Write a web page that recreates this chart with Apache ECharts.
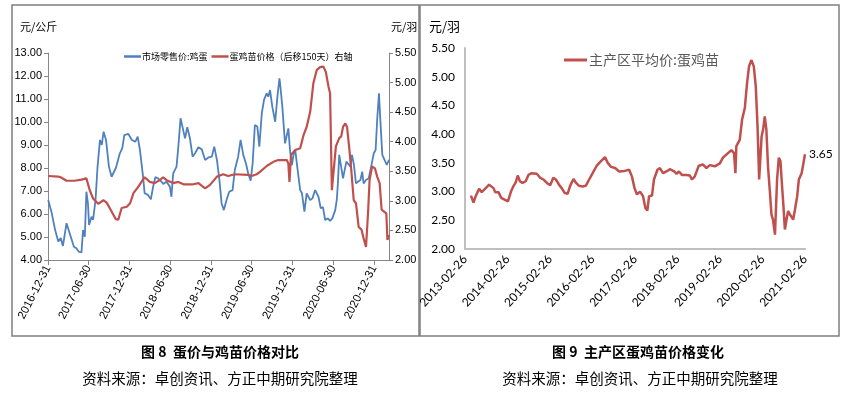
<!DOCTYPE html>
<html><head><meta charset="utf-8">
<script src="https://cdn.jsdelivr.net/npm/echarts@6/dist/echarts.min.js"></script>
<style>html,body{margin:0;padding:0;background:#fff}#c{width:847px;height:393px}</style>
</head><body><div id="c"></div>
<script>
// ---- Figure 8: egg retail price vs. chick price (shifted 150 days) ----
const eggDates = ['2017-01-01','2017-01-17','2017-02-01','2017-02-15','2017-02-26','2017-03-08','2017-03-24','2017-03-31','2017-04-12','2017-04-26','2017-05-07','2017-05-18','2017-05-30','2017-06-06','2017-06-14','2017-06-21','2017-06-28','2017-07-03','2017-07-14','2017-07-21','2017-08-01','2017-08-10','2017-08-21','2017-08-29','2017-09-06','2017-09-17','2017-09-30','2017-10-12','2017-10-20','2017-10-31','2017-11-18','2017-11-29','2017-12-08','2017-12-26','2018-01-11','2018-01-26','2018-02-06','2018-02-16','2018-03-02','2018-03-09','2018-03-24','2018-04-06','2018-04-16','2018-04-26','2018-05-08','2018-05-24','2018-05-31','2018-06-15','2018-06-30','2018-07-07','2018-07-15','2018-07-30','2018-08-07','2018-08-17','2018-08-25','2018-09-06','2018-09-16','2018-09-28','2018-10-10','2018-10-21','2018-11-05','2018-11-20','2018-12-05','2018-12-20','2019-01-04','2019-01-15','2019-01-27','2019-02-07','2019-02-17','2019-02-27','2019-03-11','2019-03-23','2019-04-07','2019-04-17','2019-05-02','2019-05-13','2019-05-25','2019-06-06','2019-06-16','2019-06-27','2019-07-06','2019-07-16','2019-07-27','2019-08-05','2019-08-16','2019-08-26','2019-09-07','2019-09-14','2019-09-22','2019-10-02','2019-10-15','2019-10-25','2019-11-03','2019-11-06','2019-11-16','2019-11-28','2019-12-13','2019-12-21','2019-12-29','2020-01-05','2020-01-13','2020-01-20','2020-02-04','2020-02-12','2020-02-23','2020-03-04','2020-03-12','2020-03-20','2020-03-30','2020-04-11','2020-04-18','2020-04-26','2020-05-06','2020-05-16','2020-05-26','2020-06-07','2020-06-17','2020-06-27','2020-07-10','2020-07-17','2020-07-22','2020-07-28','2020-08-05','2020-08-14','2020-08-21','2020-08-29','2020-09-05','2020-09-16','2020-09-23','2020-10-02','2020-10-11','2020-10-20','2020-10-31','2020-11-08','2020-11-14','2020-11-25','2020-12-07','2020-12-18','2020-12-30','2021-01-07','2021-01-14','2021-01-22','2021-01-29','2021-02-06','2021-02-16','2021-02-26','2021-03-04','2021-03-08'];
const eggPrice = [6.61,6.03,5.30,4.80,4.96,4.61,5.60,5.67,5.01,4.58,4.51,4.36,4.33,5.30,5.01,6.97,6.46,5.52,5.88,5.75,6.61,8.06,9.22,9.00,9.58,9.22,8.06,7.62,7.55,8.00,8.64,8.86,9.43,9.48,9.22,9.14,9.36,8.78,7.62,6.90,6.83,6.64,7.19,7.60,7.55,7.40,7.30,7.40,7.19,6.75,7.77,8.06,8.93,10.16,10.20,9.29,9.77,9.29,8.49,8.64,8.90,8.81,8.35,8.46,8.49,8.93,8.35,7.48,6.46,6.17,6.61,6.97,7.04,7.91,8.49,9.22,8.57,8.20,7.77,7.45,8.20,9.87,9.80,8.93,10.38,10.96,11.25,11.10,11.39,10.67,10.01,11.10,11.90,11.68,10.67,9.07,9.72,8.71,8.13,8.57,8.78,8.20,7.04,6.90,6.10,6.90,6.75,6.61,6.68,7.04,7.10,6.75,6.25,6.30,5.74,5.81,5.70,5.81,6.17,6.61,7.33,8.57,8.50,7.55,7.50,8.28,8.20,8.06,8.57,8.13,7.33,7.40,7.48,7.84,7.33,7.48,7.55,8.06,8.64,8.78,10.09,11.25,9.94,8.57,8.35,8.13,8.06,8.35];
const chickDates = ['2017-01-01','2017-02-15','2017-02-26','2017-03-24','2017-04-29','2017-05-30','2017-06-21','2017-07-06','2017-07-21','2017-08-13','2017-09-05','2017-09-20','2017-10-12','2017-10-31','2017-11-11','2017-11-26','2017-12-19','2018-01-03','2018-01-18','2018-02-09','2018-03-09','2018-04-01','2018-04-23','2018-05-16','2018-05-31','2018-06-15','2018-07-15','2018-08-07','2018-08-30','2018-10-13','2018-11-05','2018-12-05','2018-12-27','2019-01-27','2019-02-24','2019-03-18','2019-04-17','2019-06-16','2019-07-01','2019-07-24','2019-08-08','2019-09-07','2019-10-07','2019-10-29','2019-12-06','2019-12-13','2019-12-18','2019-12-25','2020-01-13','2020-02-04','2020-02-19','2020-03-04','2020-03-20','2020-04-03','2020-04-18','2020-05-03','2020-05-18','2020-05-29','2020-06-10','2020-06-17','2020-06-25','2020-07-02','2020-07-13','2020-07-28','2020-08-06','2020-08-14','2020-08-24','2020-09-01','2020-09-11','2020-09-20','2020-10-01','2020-10-11','2020-10-23','2020-11-05','2020-11-14','2020-11-25','2020-12-04','2020-12-11','2020-12-22','2021-01-04','2021-01-14','2021-01-25','2021-02-03','2021-02-13','2021-02-24','2021-03-01','2021-03-08'];
const chickShifted = [3.42,3.41,3.40,3.34,3.34,3.36,3.38,3.18,3.04,2.95,3.01,2.97,2.82,2.69,2.68,2.88,2.90,2.96,3.13,3.24,3.40,3.32,3.30,3.35,3.40,3.35,3.30,3.32,3.28,3.28,3.30,3.21,3.27,3.41,3.45,3.42,3.45,3.44,3.42,3.45,3.49,3.59,3.66,3.69,3.69,3.63,3.32,3.78,3.86,3.89,4.11,4.25,4.51,4.99,5.21,5.26,5.27,5.18,4.93,4.82,3.18,3.18,3.92,4.06,4.09,4.25,4.31,4.25,3.89,3.52,3.01,2.96,2.56,2.51,2.37,2.22,2.79,3.35,3.58,3.55,3.41,3.30,2.85,2.82,2.79,2.34,2.42];
const leftTicks = ['2016-12-31','2017-06-30','2017-12-31','2018-06-30','2018-12-31','2019-06-30','2019-12-31','2020-06-30','2020-12-31'];

// ---- Figure 9: chick average price in main producing areas ----
const chickDates2 = ['2013-04-18','2013-05-10','2013-05-29','2013-06-27','2013-07-20','2013-08-23','2013-09-21','2013-10-29','2013-11-12','2013-12-11','2014-01-03','2014-02-01','2014-03-02','2014-03-28','2014-04-17','2014-05-08','2014-05-25','2014-06-13','2014-07-05','2014-08-02','2014-08-25','2014-09-23','2014-11-05','2014-12-04','2015-01-02','2015-01-31','2015-02-28','2015-03-27','2015-04-18','2015-05-15','2015-06-07','2015-07-01','2015-07-28','2015-08-17','2015-09-16','2015-10-09','2015-11-03','2015-12-03','2015-12-31','2016-01-29','2016-02-28','2016-04-03','2016-05-10','2016-06-13','2016-07-07','2016-08-04','2016-09-08','2016-10-13','2016-11-29','2017-01-07','2017-01-31','2017-02-22','2017-03-15','2017-04-10','2017-05-06','2017-05-27','2017-06-12','2017-06-27','2017-07-22','2017-08-08','2017-09-07','2017-09-28','2017-10-25','2017-11-23','2017-12-22','2018-01-29','2018-02-18','2018-03-11','2018-04-05','2018-05-14','2018-06-11','2018-07-01','2018-07-24','2018-08-28','2018-10-04','2018-11-02','2018-12-01','2019-01-13','2019-02-25','2019-03-24','2019-05-06','2019-06-04','2019-06-27','2019-07-09','2019-07-17','2019-08-15','2019-09-04','2019-09-28','2019-10-17','2019-11-03','2019-11-24','2019-12-14','2019-12-31','2020-01-15','2020-01-29','2020-02-10','2020-02-19','2020-03-03','2020-03-17','2020-03-31','2020-04-14','2020-04-29','2020-05-14','2020-05-27','2020-06-13','2020-07-01','2020-07-16','2020-07-30','2020-08-13','2020-08-25','2020-09-06','2020-09-20','2020-10-04','2020-10-19','2020-11-02','2020-11-16','2020-12-01','2020-12-21','2021-01-04','2021-01-28','2021-02-26'];
const chickAvg = [2.93,2.81,2.92,3.05,2.99,3.06,3.12,3.06,2.99,2.99,2.89,2.86,2.83,3.00,3.09,3.16,3.28,3.18,3.15,3.18,3.29,3.32,3.31,3.24,3.21,3.15,3.11,3.24,3.21,3.12,3.06,2.98,2.96,3.09,3.22,3.15,3.10,3.09,3.10,3.21,3.32,3.45,3.53,3.60,3.50,3.43,3.41,3.35,3.36,3.38,3.26,3.06,2.95,3.00,2.92,2.71,2.67,2.92,2.93,3.21,3.38,3.41,3.32,3.35,3.39,3.35,3.31,3.35,3.29,3.29,3.28,3.21,3.26,3.45,3.47,3.41,3.46,3.44,3.49,3.59,3.67,3.72,3.67,3.32,3.79,3.90,4.25,4.46,4.89,5.18,5.29,5.18,4.83,4.14,3.21,3.18,3.96,4.08,4.31,4.08,3.44,3.03,2.60,2.51,2.25,3.21,3.59,3.53,3.09,2.74,2.34,2.51,2.66,2.60,2.56,2.51,2.68,2.92,3.21,3.32,3.65];
const rightTicks = ['2013-02-26','2014-02-26','2015-02-26','2016-02-26','2017-02-26','2018-02-26','2019-02-26','2020-02-26','2021-02-26'];

const ts = s => { const p = s.split('-').map(Number); return Date.UTC(p[0], p[1] - 1, p[2]); };
const zip = (d, v) => d.map((x, i) => [ts(x), v[i]]);
const pad = n => (n < 10 ? '0' : '') + n;
const fmtDate = v => { const d = new Date(v); return d.getUTCFullYear() + '-' + pad(d.getUTCMonth() + 1) + '-' + pad(d.getUTCDate()); };
const CJK = "'Noto Sans CJK SC', sans-serif";
const NARROW = "'Liberation Sans Narrow', 'Liberation Sans', sans-serif";
const NUM = "Lato, 'Liberation Sans', sans-serif";
const BLUE = '#4F81BD', RED = '#C0504D';
const lt = leftTicks.map(ts), rt = rightTicks.map(ts);

const chart = echarts.init(document.getElementById('c'), null, {renderer: 'canvas'});
chart.setOption({
  animation: false,
  backgroundColor: '#fff',
  grid: [
    {left: 48, right: 458, top: 53, bottom: 133},
    {left: 465, right: 42, top: 48, bottom: 144}
  ],
  legend: [
    {left: 124, top: 52, icon: 'rect', itemWidth: 17, itemHeight: 2.5, itemGap: 4, padding: 0,
     data: ['市场零售价:鸡蛋', '蛋鸡苗价格（后移150天）右轴'],
     textStyle: {fontFamily: CJK, fontSize: 9, color: '#000', padding: [0, 0, 0, -4]}},
    {left: 564, top: 53, icon: 'rect', itemWidth: 23, itemHeight: 3, padding: 0,
     data: ['主产区平均价:蛋鸡苗'],
     textStyle: {fontFamily: CJK, fontSize: 14, color: '#595959', padding: [0, 0, 0, -3]}}
  ],
  xAxis: [
    {type: 'value', gridIndex: 0, min: ts('2016-12-31'), max: ts('2021-03-08'),
     splitLine: {show: false},
     axisLine: {lineStyle: {color: '#868686', width: 1}},
     axisTick: {show: true, length: 5, customValues: lt, lineStyle: {color: '#868686'}},
     axisLabel: {customValues: lt, rotate: 63, margin: 6, formatter: fmtDate,
                 fontFamily: NARROW, fontSize: 11.5, color: '#000'}},
    {type: 'value', gridIndex: 1, min: ts('2013-02-26'), max: ts('2021-02-26'),
     splitLine: {show: false},
     axisLine: {lineStyle: {color: '#BFBFBF', width: 2}},
     axisTick: {show: false, customValues: rt},
     axisLabel: {customValues: rt, rotate: 48, margin: 8, formatter: fmtDate,
                 fontFamily: NUM, fontSize: 12, color: '#000'}}
  ],
  yAxis: [
    {type: 'value', gridIndex: 0, min: 4, max: 13, interval: 1,
     splitLine: {show: false},
     axisLine: {show: true, lineStyle: {color: '#868686'}},
     axisTick: {show: true, length: 4, lineStyle: {color: '#868686'}},
     axisLabel: {formatter: v => v.toFixed(2), margin: 6, fontFamily: NARROW, fontSize: 11, color: '#000'}},
    {type: 'value', gridIndex: 0, position: 'right', min: 2, max: 5.5, interval: 0.5,
     splitLine: {show: false},
     axisLine: {show: true, lineStyle: {color: '#868686'}},
     axisTick: {show: true, length: 4, lineStyle: {color: '#868686'}},
     axisLabel: {formatter: v => v.toFixed(2), margin: 6, fontFamily: NARROW, fontSize: 11, color: '#000'}},
    {type: 'value', gridIndex: 1, min: 2, max: 5.5, interval: 0.5,
     splitLine: {show: false},
     axisLine: {show: true, lineStyle: {color: '#BFBFBF', width: 2}},
     axisTick: {show: false},
     axisLabel: {formatter: v => v.toFixed(2), margin: 10, fontFamily: NUM, fontSize: 12, color: '#000'}}
  ],
  series: [
    {name: '市场零售价:鸡蛋', type: 'line', xAxisIndex: 0, yAxisIndex: 0, symbol: 'none',
     lineStyle: {color: BLUE, width: 1.8}, itemStyle: {color: BLUE},
     data: zip(eggDates, eggPrice)},
    {name: '蛋鸡苗价格（后移150天）右轴', type: 'line', xAxisIndex: 0, yAxisIndex: 1, symbol: 'none',
     lineStyle: {color: RED, width: 2.2}, itemStyle: {color: RED},
     data: zip(chickDates, chickShifted)},
    {name: '主产区平均价:蛋鸡苗', type: 'line', xAxisIndex: 1, yAxisIndex: 2, symbol: 'none',
     lineStyle: {color: RED, width: 2.5}, itemStyle: {color: RED},
     endLabel: {show: true, distance: 4, formatter: p => p.value[1].toFixed(2),
                fontFamily: NUM, fontSize: 12, color: '#000'},
     data: zip(chickDates2, chickAvg)}
  ],
  graphic: [
    {type: 'rect', shape: {x: 12, y: 5, width: 407, height: 331}, silent: true, z: -1,
     style: {fill: 'none', stroke: '#7f7f7f', lineWidth: 1.5}},
    {type: 'rect', shape: {x: 420, y: 5, width: 419, height: 331}, silent: true, z: -1,
     style: {fill: 'none', stroke: '#7f7f7f', lineWidth: 1.5}},
    {type: 'text', x: 20, y: 27, style: {text: '元/公斤', fontFamily: CJK, fontSize: 11, fill: '#000', textVerticalAlign: 'middle'}},
    {type: 'text', x: 391, y: 27, style: {text: '元/羽', fontFamily: CJK, fontSize: 11, fill: '#000', textVerticalAlign: 'middle'}},
    {type: 'text', x: 429, y: 26, style: {text: '元/羽', fontFamily: CJK, fontSize: 13, fill: '#000', textVerticalAlign: 'middle'}},
    {type: 'text', x: 220, y: 352, style: {text: '图 8  蛋价与鸡苗价格对比', fontFamily: CJK, fontSize: 14, fontWeight: 'bold', fill: '#000', textAlign: 'center', textVerticalAlign: 'middle'}},
    {type: 'text', x: 638, y: 352, style: {text: '图 9  主产区蛋鸡苗价格变化', fontFamily: CJK, fontSize: 14, fontWeight: 'bold', fill: '#000', textAlign: 'center', textVerticalAlign: 'middle'}},
    {type: 'text', x: 220, y: 378, style: {text: '资料来源：卓创资讯、方正中期研究院整理', fontFamily: CJK, fontSize: 14.5, fill: '#000', textAlign: 'center', textVerticalAlign: 'middle'}},
    {type: 'text', x: 640, y: 378, style: {text: '资料来源：卓创资讯、方正中期研究院整理', fontFamily: CJK, fontSize: 14.5, fill: '#000', textAlign: 'center', textVerticalAlign: 'middle'}}
  ]
});
</script></body></html>
